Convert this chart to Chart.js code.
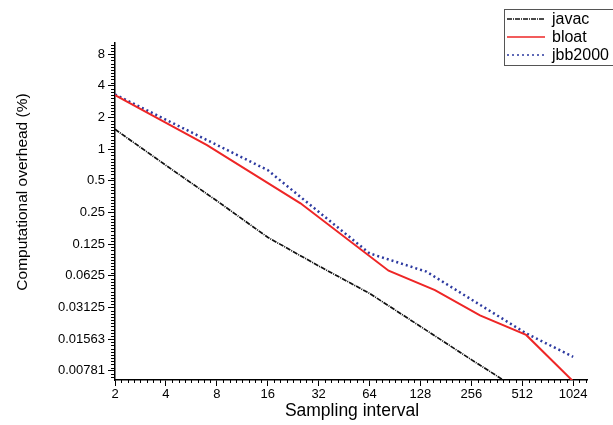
<!DOCTYPE html>
<html>
<head>
<meta charset="utf-8">
<script src="https://cdn.jsdelivr.net/npm/chart.js@4/dist/chart.umd.min.js"></script>
<style>
  html, body { margin: 0; padding: 0; background: #fff; }
  #wrap { width: 613px; height: 425px; }
</style>
</head>
<body>
<div id="wrap"><canvas id="chart" width="613" height="425"></canvas></div>
<script>
// values (log2 axes)
const xTicks = [2, 4, 8, 16, 32, 64, 128, 256, 512, 1024];
const yTicks = [8, 4, 2, 1, 0.5, 0.25, 0.125, 0.0625, 0.03125, 0.015625, 0.0078125];
const yTickLabels = ['8', '4', '2', '1', '0.5', '0.25', '0.125', '0.0625', '0.03125', '0.01563', '0.00781'];

const javacX = [2, 4, 8, 16, 32, 64, 128, 256, 512];
const javacY = [1.54, 0.70, 0.322, 0.145, 0.0775, 0.0425, 0.0206, 0.00996, 0.0049];

const bloatX = [2, 7, 25, 83, 156, 288, 540, 1024];
const bloatY = [3.26, 1.09, 0.305, 0.0698, 0.0457, 0.0262, 0.0171, 0.0062];

const jbbX = [2, 16, 64, 139, 540, 1024];
const jbbY = [3.3, 0.63, 0.102, 0.0683, 0.0177, 0.0106];

const seriesNames = ['javac', 'bloat', 'jbb2000'];

const font = '"Liberation Sans", Arial, sans-serif';

function pts(xs, ys) {
  return xs.map((x, i) => ({x: x, y: ys[i]}));
}

// minor ticks, axis titles and the legend box
const extras = {
  id: 'extras',
  afterDraw(chart) {
    const ctx = chart.ctx;
    const xs = chart.scales.x, ys = chart.scales.y;
    const area = chart.chartArea;
    ctx.save();
    ctx.strokeStyle = '#000';
    ctx.lineWidth = 1;

    // x minor ticks: 7 between each doubling
    ctx.beginPath();
    for (let e = 1; e <= 11; e++) {
      for (let j = 1; j < 8; j++) {
        const v = Math.pow(2, e + j / 8);
        if (v > xs.max) continue;
        const px = Math.round(xs.getPixelForValue(v)) + 0.5;
        ctx.moveTo(px, area.bottom);
        ctx.lineTo(px, area.bottom + 3);
      }
    }
    ctx.stroke();

    // y minor ticks: 9 between each doubling
    ctx.beginPath();
    for (let e = -8; e <= 3; e++) {
      for (let j = 1; j < 10; j++) {
        const v = Math.pow(2, e + j / 10);
        if (v < ys.min || v > ys.max) continue;
        const py = Math.round(ys.getPixelForValue(v)) + 0.5;
        ctx.moveTo(area.left - 4, py);
        ctx.lineTo(area.left, py);
      }
    }
    ctx.stroke();

    // axis titles
    ctx.fillStyle = '#000';
    ctx.font = '17.5px ' + font;
    ctx.textAlign = 'center';
    ctx.textBaseline = 'alphabetic';
    ctx.fillText('Sampling interval', 352, 416);

    ctx.save();
    ctx.translate(27, 192);
    ctx.rotate(-Math.PI / 2);
    ctx.font = '15.5px ' + font;
    ctx.fillText('Computational overhead (%)', 0, 0);
    ctx.restore();

    // legend
    const lx = 504, ly = 9;
    ctx.fillStyle = '#fff';
    ctx.fillRect(lx, ly, 140, 56);
    ctx.strokeStyle = '#555';
    ctx.lineWidth = 1;
    ctx.strokeRect(lx + 0.5, ly + 0.5, 140, 56);
    const rows = [19, 37, 55];
    chart.data.datasets.forEach((ds, i) => {
      ctx.beginPath();
      ctx.strokeStyle = ds.borderColor;
      ctx.lineWidth = i === 1 ? 1.6 : 1.4;
      ctx.setLineDash(ds.borderDash || []);
      ctx.moveTo(507, rows[i]);
      ctx.lineTo(545, rows[i]);
      ctx.stroke();
      ctx.setLineDash([]);
      ctx.fillStyle = '#000';
      ctx.font = '16px ' + font;
      ctx.textAlign = 'left';
      ctx.textBaseline = 'middle';
      ctx.fillText(seriesNames[i], 552, rows[i] + 1);
    });
    ctx.restore();
  }
};

new Chart(document.getElementById('chart'), {
  type: 'line',
  data: {
    datasets: [
      {
        label: seriesNames[0],
        data: pts(javacX, javacY),
        borderColor: '#111111',
        borderWidth: 1.7,
        borderDash: [5, 1, 1, 1]
      },
      {
        label: seriesNames[1],
        data: pts(bloatX, bloatY),
        borderColor: '#ee2626',
        borderWidth: 2
      },
      {
        label: seriesNames[2],
        data: pts(jbbX, jbbY),
        borderColor: '#2d3aa0',
        borderWidth: 2.5,
        borderDash: [2, 3]
      }
    ]
  },
  options: {
    responsive: false,
    animation: false,
    layout: { padding: { top: 43, right: 26, left: 0, bottom: 0 } },
    elements: {
      point: { radius: 0 },
      line: { tension: 0 }
    },
    plugins: {
      legend: { display: false },
      tooltip: { enabled: false }
    },
    scales: {
      x: {
        type: 'logarithmic',
        min: 2,
        max: 1237,
        afterBuildTicks: s => { s.ticks = xTicks.map(v => ({value: v})); },
        afterFit: s => { s.height = 45; },
        border: { color: '#000', width: 1.5 },
        grid: { drawOnChartArea: false, drawTicks: true, tickLength: 6, color: '#000', tickWidth: 1 },
        ticks: {
          autoSkip: false,
          maxRotation: 0,
          padding: 1,
          color: '#000',
          font: { family: font, size: 13 },
          callback: v => String(v)
        }
      },
      y: {
        type: 'logarithmic',
        min: 0.00638,
        max: 10.18,
        afterBuildTicks: s => { s.ticks = yTicks.map(v => ({value: v})); },
        afterFit: s => { s.width = 115; },
        border: { color: '#000', width: 1.5 },
        grid: { drawOnChartArea: false, drawTicks: true, tickLength: 7, color: '#000', tickWidth: 1 },
        ticks: {
          autoSkip: false,
          padding: 3,
          color: '#000',
          font: { family: font, size: 13 },
          callback: (v, i) => yTickLabels[yTicks.indexOf(v)] ?? ''
        }
      }
    }
  },
  plugins: [extras]
});
</script>
</body>
</html>
